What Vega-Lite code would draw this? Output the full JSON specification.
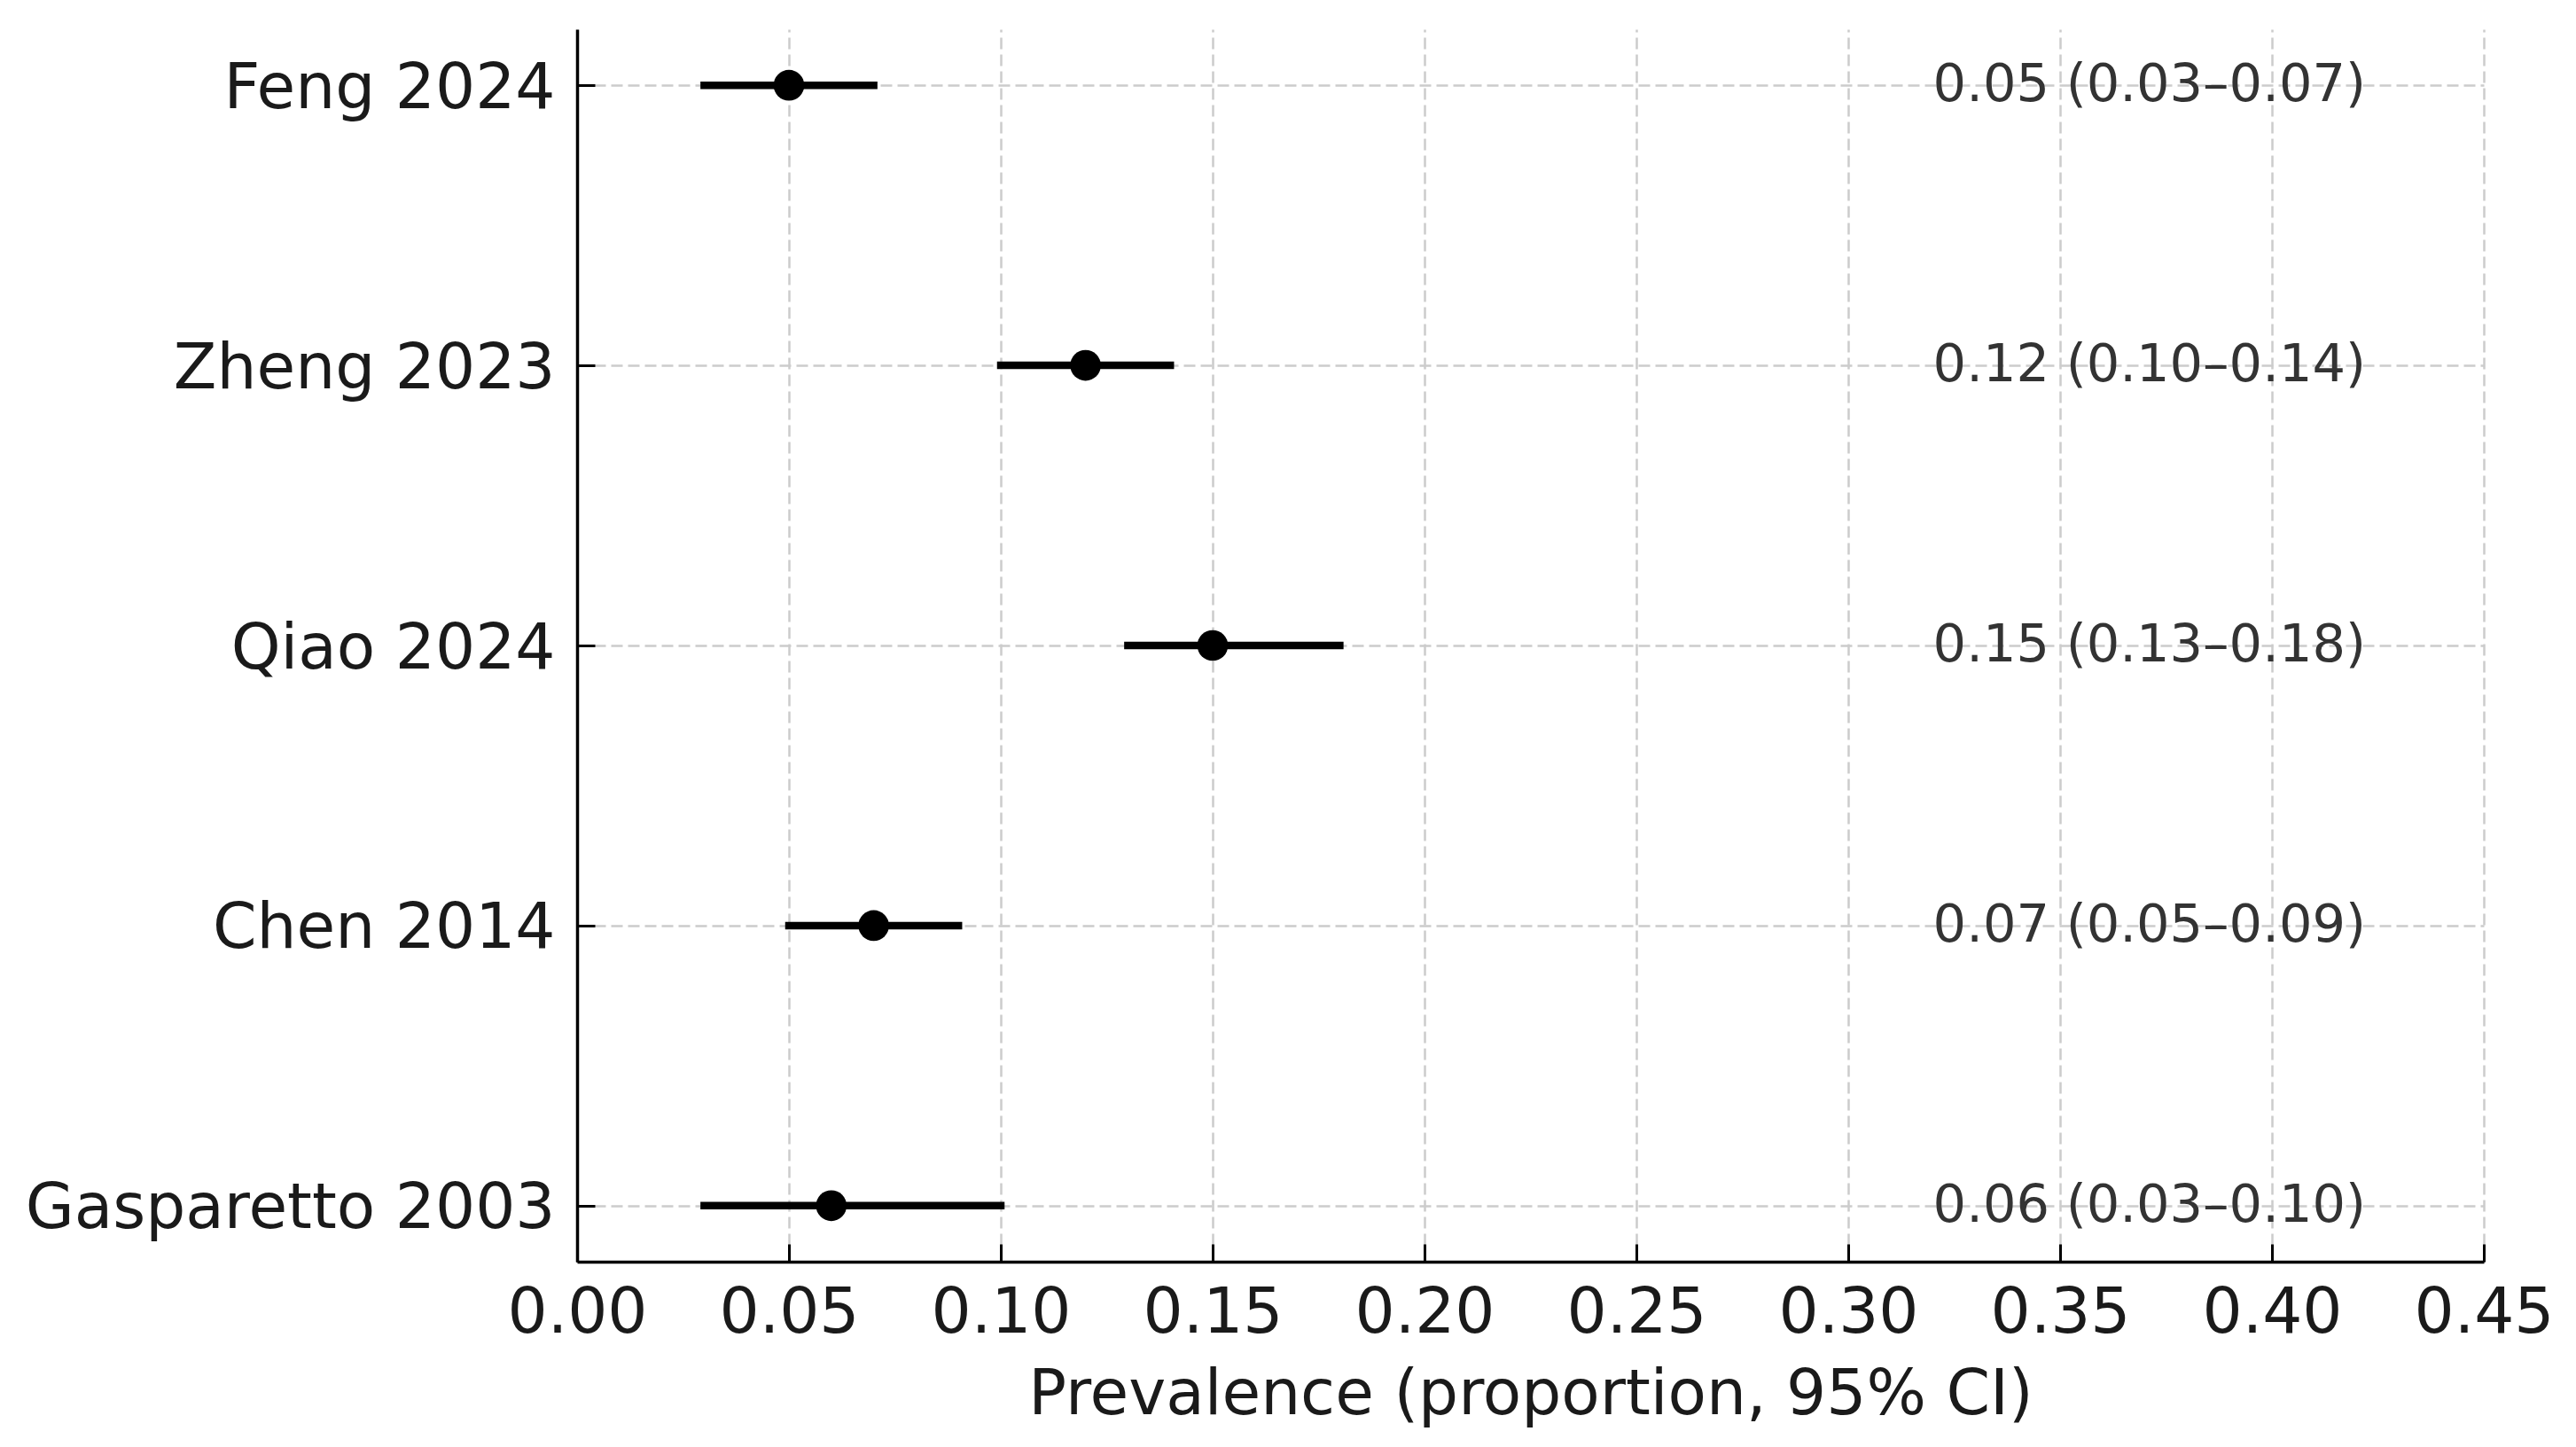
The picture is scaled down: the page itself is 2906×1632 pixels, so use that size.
{
  "$schema": "https://vega.github.io/schema/vega-lite/v6.json",
  "autosize": "none",
  "width": 2151,
  "height": 1390,
  "padding": {"left": 651, "top": 33, "right": 104, "bottom": 209},
  "background": "white",
  "config": {
    "view": {"stroke": null},
    "font": "DejaVu Sans",
    "axis": {
      "labelFont": "DejaVu Sans",
      "titleFont": "DejaVu Sans",
      "labelColor": "#1a1a1a",
      "titleColor": "#1a1a1a",
      "labelFontSize": 71,
      "titleFontSize": 71,
      "titleFontWeight": "normal",
      "labelLimit": 0,
      "domainColor": "#000000",
      "domainWidth": 3.5,
      "tickColor": "#000000",
      "tickWidth": 3,
      "tickSize": -20,
      "gridColor": "#cccccc",
      "gridWidth": 2.5,
      "gridDash": [13, 6]
    }
  },
  "data": {
    "values": [
      {"study": "Feng 2024", "est": 0.05, "lo": 0.03, "hi": 0.07, "label": "0.05 (0.03–0.07)"},
      {"study": "Zheng 2023", "est": 0.12, "lo": 0.10, "hi": 0.14, "label": "0.12 (0.10–0.14)"},
      {"study": "Qiao 2024", "est": 0.15, "lo": 0.13, "hi": 0.18, "label": "0.15 (0.13–0.18)"},
      {"study": "Chen 2014", "est": 0.07, "lo": 0.05, "hi": 0.09, "label": "0.07 (0.05–0.09)"},
      {"study": "Gasparetto 2003", "est": 0.06, "lo": 0.03, "hi": 0.10, "label": "0.06 (0.03–0.10)"}
    ]
  },
  "encoding": {
    "y": {
      "field": "study",
      "type": "nominal",
      "sort": ["Feng 2024", "Zheng 2023", "Qiao 2024", "Chen 2014", "Gasparetto 2003"],
      "scale": {"type": "point", "padding": 0.2},
      "axis": {"title": null, "labelPadding": 45, "labelOffset": 4, "grid": true}
    }
  },
  "layer": [
    {
      "mark": {"type": "rule", "strokeWidth": 8.5, "color": "#000000", "strokeCap": "square"},
      "encoding": {
        "x": {
          "field": "lo",
          "type": "quantitative",
          "scale": {"domain": [0, 0.45], "nice": false, "zero": false},
          "axis": {
            "title": "Prevalence (proportion, 95% CI)",
            "values": [0, 0.05, 0.1, 0.15, 0.2, 0.25, 0.3, 0.35, 0.4, 0.45],
            "format": ".2f",
            "labelPadding": 43,
            "titlePadding": 22,
            "grid": true,
            "labelFlush": false
          }
        },
        "x2": {"field": "hi"}
      }
    },
    {
      "mark": {"type": "point", "filled": true, "color": "#000000", "size": 1200, "opacity": 1},
      "encoding": {
        "x": {"field": "est", "type": "quantitative"}
      }
    },
    {
      "mark": {"type": "text", "align": "left", "baseline": "middle", "fontSize": 59, "color": "#333333", "font": "DejaVu Sans"},
      "encoding": {
        "x": {"datum": 0.32, "type": "quantitative"},
        "text": {"field": "label"}
      }
    }
  ]
}
